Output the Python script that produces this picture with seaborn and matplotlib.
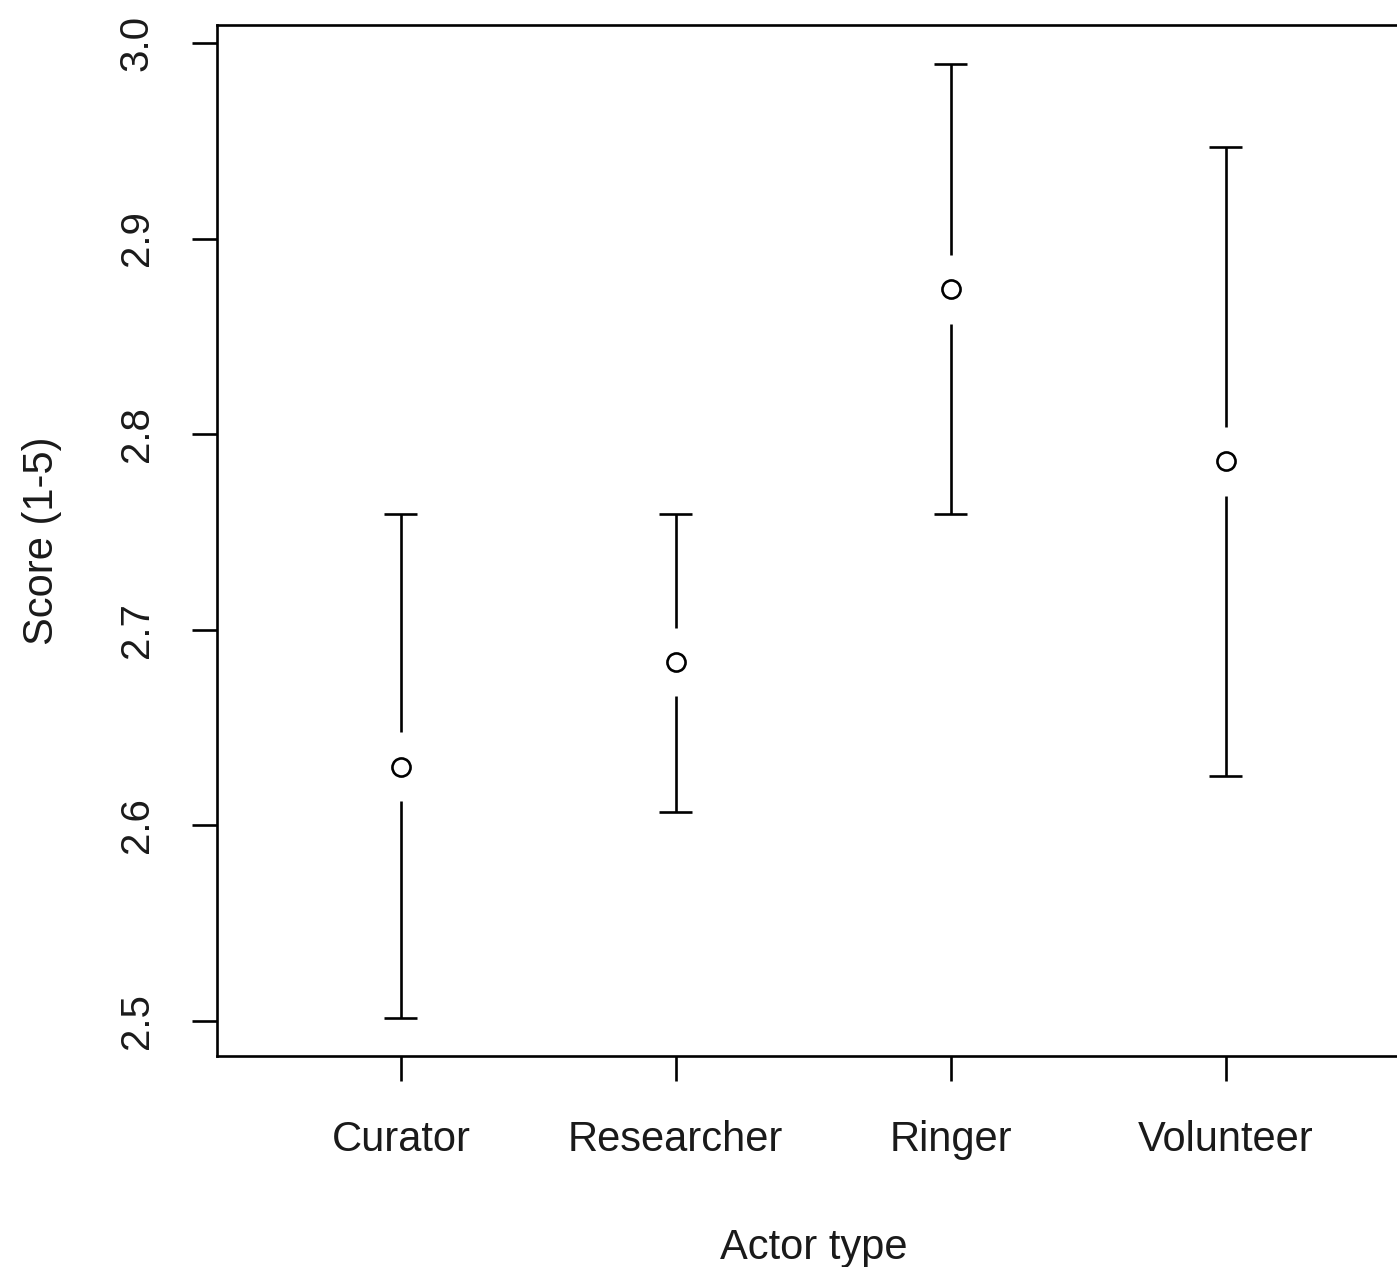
import pandas as pd
import seaborn as sns
import matplotlib.pyplot as plt

# means and confidence limits
actors = ['Curator', 'Researcher', 'Ringer', 'Volunteer']
means = [2.630, 2.6835, 2.874, 2.786]
lower = [2.5015, 2.607, 2.759, 2.625]
upper = [2.759, 2.759, 2.989, 2.947]
yticks = [2.5, 2.6, 2.7, 2.8, 2.9, 3.0]

sns.set_style('ticks')
plt.rcParams['font.family'] = ['Liberation Sans', 'DejaVu Sans']

df = pd.DataFrame({'actor': actors, 'mean': means, 'lo': lower, 'hi': upper})

fig = plt.figure(figsize=(13.97, 12.67), dpi=100)
ax = fig.add_axes([0.1553, 0.1665, 0.8537, 0.8138])

gap = 0.0175   # gap between the circle and the bar
cap = 0.06     # half width of the caps
lw = 1.9
xs = range(len(actors))
ax.vlines(xs, df['hi'], df['mean'] + gap, color='black', lw=lw)
ax.vlines(xs, df['mean'] - gap, df['lo'], color='black', lw=lw)
ax.hlines(df['hi'], [x - cap for x in xs], [x + cap for x in xs], color='black', lw=lw)
ax.hlines(df['lo'], [x - cap for x in xs], [x + cap for x in xs], color='black', lw=lw)

sns.scatterplot(data=df, x='actor', y='mean', ax=ax, marker='o', s=170,
                facecolor='white', edgecolor='black', linewidth=lw, zorder=3)

ax.set_xlim(-0.669, 3.669)
ax.set_ylim(2.482, 3.0092)
ax.set_yticks(yticks)
ax.set_yticklabels([f'{v:.1f}' for v in yticks], rotation=90, va='center')

for s in ax.spines.values():
    s.set_color('black')
    s.set_linewidth(lw)

ax.tick_params(direction='out', length=18, width=lw, color='black',
               labelsize=29, labelcolor='#1a1a1a')
ax.tick_params(axis='x', pad=28, labelsize=30)
ax.tick_params(axis='y', pad=26)

ax.set_xlabel('Actor type', fontsize=30, color='#1a1a1a', labelpad=49)
ax.set_ylabel('Score (1-5)', fontsize=30, color='#1a1a1a', labelpad=40)

plt.savefig('out.png', dpi=100)
plt.close()
